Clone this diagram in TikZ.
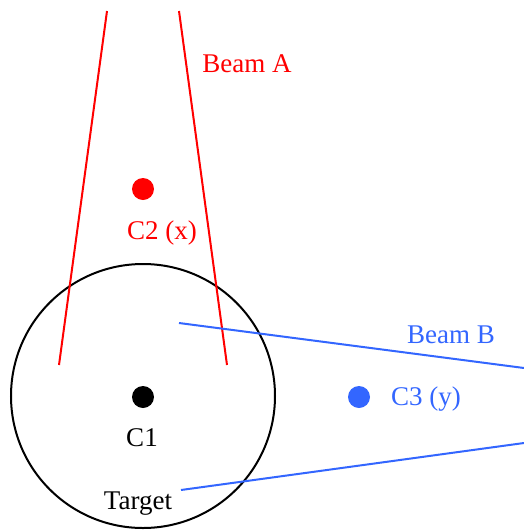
\documentclass[tikz,border=0pt]{standalone}
\usepackage{fontspec}
\setmainfont{Liberation Serif}
\definecolor{beamblue}{HTML}{3366FF}
\begin{document}
\begin{tikzpicture}[x=1pt,y=-1pt,
  lbl/.style={inner sep=0pt,anchor=base,font=\fontsize{27}{31}\selectfont},
  dot/.style={circle,fill,inner sep=0pt,minimum size=22pt},
  beam/.style={line width=2pt}]
\useasboundingbox (0,0) rectangle (524,531);
\node[draw,circle,line width=2pt,minimum size=264pt,inner sep=0pt] (target) at (143,396) {};
% Beam A
\coordinate (a1) at (107,11); \coordinate (a2) at (59,365);
\coordinate (a3) at (179,11); \coordinate (a4) at (227,365);
\draw[beam,red] (a1) -- (a2);
\draw[beam,red] (a3) -- (a4);
% Beam B
\coordinate (b1) at (179,323); \coordinate (b2) at (524,368);
\coordinate (b3) at (181,490); \coordinate (b4) at (524,443);
\draw[beam,beamblue] (b1) -- (b2);
\draw[beam,beamblue] (b3) -- (b4);
% dots
\node[dot,red] (c2) at (143,189) {};
\node[dot,black] (c1) at (143,397) {};
\node[dot,beamblue] (c3) at (359,397) {};
% labels
\node[lbl,red] (lA) at (247,72) {Beam A};
\node[lbl,red] (lC2) at (162,239) {C2 (x)};
\node[lbl,beamblue] (lB) at (451,343) {Beam B};
\node[lbl,beamblue] (lC3) at (426,405) {C3 (y)};
\node[lbl] (lC1) at (142,446) {C1};
\node[lbl] (lT) at (138,509) {Target};
\end{tikzpicture}
\end{document}
